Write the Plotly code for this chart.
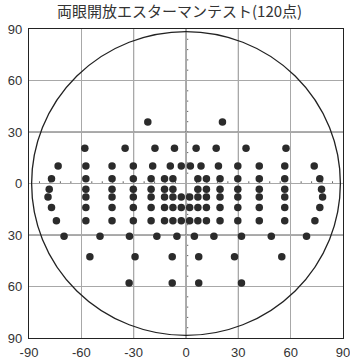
import plotly.graph_objects as go

# Esterman binocular test points (degrees), row by row
row_y = [35.8, 20.5, 10.2, 2.8, -3.3, -7.8, -14.0, -21.7, -30.7, -42.7, -58.0]
row_x = [
    [-21.9, 20.9],
    [-58.0, -34.9, -17.8, -6.6, 5.8, 17.3, 34.4, 57.3],
    [-73.3, -57.4, -42.4, -30.2, -19.1, -9.0, -2.7, 2.5, 8.6, 18.6, 29.7, 42.0, 56.6, 73.5],
    [-77.1, -57.4, -42.4, -30.2, -20.0, -12.3, -7.5, 6.8, 11.7, 19.5, 29.7, 42.0, 56.6, 76.7],
    [-78.4, -57.4, -42.4, -30.2, -20.0, -12.3, -7.5, 6.8, 11.7, 19.5, 29.7, 42.0, 56.6, 77.7],
    [-79.1, -57.4, -42.4, -30.2, -20.0, -12.3, -7.5, -2.7, 2.1, 6.8, 11.7, 19.5, 29.7, 42.0, 56.6, 78.3],
    [-77.1, -57.4, -42.4, -30.2, -20.0, -12.3, -7.5, -2.7, 2.1, 6.8, 11.7, 19.5, 29.7, 42.0, 56.6, 76.7],
    [-74.3, -57.4, -42.4, -30.2, -20.0, -12.3, -7.5, -2.7, 2.1, 6.8, 11.7, 19.5, 29.7, 42.0, 56.6, 73.9],
    [-69.9, -49.3, -32.4, -16.7, -5.2, 4.8, 16.0, 31.8, 48.9, 69.1],
    [-55.1, -29.2, -7.9, 7.3, 27.8, 54.9],
    [-32.6, -7.9, 7.3, 31.8],
]

tick_vals = [-90, -60, -30, 0, 30, 60, 90]
x_tick_text = ["-90", "-60", "-30", "0", "30", "60", "90"]
y_tick_text = ["90", "60", "30", "0", "30", "60", "90"]
field_radius = 88.5
title = "両眼開放エスターマンテスト(120点)"

xs, ys = [], []
for y, row in zip(row_y, row_x):
    for x in row:
        xs.append(x)
        ys.append(y)

fig = go.Figure()
fig.add_trace(go.Scatter(
    x=xs, y=ys, mode="markers",
    marker=dict(size=7.5, color="#2b2b2b", line=dict(width=0)),
    hoverinfo="skip", showlegend=False,
))

shapes = []
# darker inner grid lines
for v in [-30, 0, 30]:
    shapes.append(dict(type="line", xref="x", yref="y", x0=v, x1=v, y0=-90, y1=90,
                       line=dict(color="#5a5a5a", width=1), layer="below"))
    shapes.append(dict(type="line", xref="x", yref="y", x0=-90, x1=90, y0=v, y1=v,
                       line=dict(color="#5a5a5a", width=1), layer="below"))
# small ticks along the zero lines
for v in range(-84, 85, 6):
    if v == 0:
        continue
    shapes.append(dict(type="line", xref="x", yref="y", x0=v, x1=v, y0=0, y1=1.3,
                       line=dict(color="#666", width=1), layer="below"))
    shapes.append(dict(type="line", xref="x", yref="y", x0=0, x1=1.3, y0=v, y1=v,
                       line=dict(color="#666", width=1), layer="below"))
# visual field boundary circle
shapes.append(dict(type="circle", xref="x", yref="y",
                   x0=-field_radius, x1=field_radius, y0=-field_radius, y1=field_radius,
                   line=dict(color="#222", width=1.3)))

fig.update_layout(
    width=350, height=360,
    margin=dict(l=29, r=7, t=29, b=22, autoexpand=False),
    paper_bgcolor="white", plot_bgcolor="white",
    title=dict(text=title, x=0.513, xanchor="center", y=0.966, yanchor="middle",
               font=dict(family="Noto Sans CJK JP", size=15, color="#333")),
    shapes=shapes,
    font=dict(family="Liberation Sans, Arial", size=13, color="#333"),
)
fig.update_xaxes(range=[-90, 90], tickvals=tick_vals, ticktext=x_tick_text,
                 showgrid=True, gridcolor="#a8a8a8", gridwidth=1, automargin=False,
                 ticklabeloverflow="allow",
                 zeroline=False, showline=True, linecolor="#222", linewidth=1.3,
                 mirror=True, ticks="", ticklabelstandoff=2, fixedrange=True)
fig.update_yaxes(range=[-90, 90], tickvals=tick_vals, ticktext=y_tick_text,
                 showgrid=True, gridcolor="#a8a8a8", gridwidth=1, automargin=False,
                 ticklabeloverflow="allow",
                 zeroline=False, showline=True, linecolor="#222", linewidth=1.3,
                 mirror=True, ticks="", ticklabelstandoff=3, fixedrange=True)

fig.write_html("out.html", config={"displayModeBar": False})
